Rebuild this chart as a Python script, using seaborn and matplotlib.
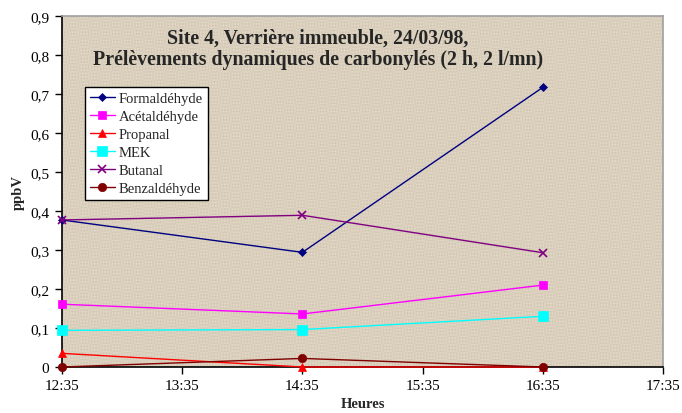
import numpy as np
import pandas as pd
import matplotlib
matplotlib.use("Agg")
import matplotlib.pyplot as plt
import seaborn as sns

# Sampling times (minutes after 12:35) and tick labels
times = [0, 120, 240]
tick_minutes = [0, 60, 120, 180, 240, 300]
tick_labels = ["12:35", "13:35", "14:35", "15:35", "16:35", "17:35"]

formaldehyde = [0.377, 0.294, 0.717]
acetaldehyde = [0.161, 0.136, 0.210]
propanal = [0.035, 0.0, 0.0]
mek = [0.094, 0.096, 0.130]
butanal = [0.377, 0.389, 0.293]
benzaldehyde = [0.0, 0.022, 0.0]

series_names = ["Formaldéhyde", "Acétaldéhyde", "Propanal", "MEK", "Butanal", "Benzaldéhyde"]
series_values = [formaldehyde, acetaldehyde, propanal, mek, butanal, benzaldehyde]
colors = ["#000080", "#ff00ff", "#ff0000", "#00ffff", "#800080", "#800000"]
markers = ["D", "s", "^", "s", "x", "o"]
msizes = [4, 6, 6, 7, 6, 6]

sns.set_theme(style="white")
plt.rcParams["font.family"] = ["Liberation Serif", "DejaVu Serif"]

fig = plt.figure(figsize=(6.82, 4.14), dpi=100)
ax = fig.add_axes([62 / 682, 46 / 414, 601 / 682, 351 / 414])

# Woven-canvas plot area fill
h, w = 351, 601
yy, xx = np.mgrid[0:h, 0:w]
weave = (0.5 * np.sin(xx * 2.1) * np.cos(yy * 0.37) + 0.5 * np.sin(yy * 1.9) * np.cos(xx * 0.29))
base = np.array([0.855, 0.815, 0.74])
tex = base[None, None, :] + 0.045 * weave[..., None]
ax.imshow(np.clip(tex, 0, 1), extent=[0, 300, 0, 0.9], aspect="auto", zorder=0,
          interpolation="nearest")

for name, vals, c, m, ms in zip(series_names, series_values, colors, markers, msizes):
    df = pd.DataFrame({"t": times, "v": vals})
    sns.lineplot(data=df, x="t", y="v", ax=ax, color=c, marker=m, markersize=ms,
                 markeredgecolor=c, markeredgewidth=1.2 if m == "x" else 0.5,
                 linewidth=1.0, label=name, zorder=3, clip_on=False)

ax.set_xlim(0, 300)
ax.set_ylim(0, 0.9)
ax.set_xticks(tick_minutes)
ax.set_xticklabels(tick_labels)
yt = np.round(np.arange(0, 0.91, 0.1), 1)
ax.set_yticks(yt)
ax.set_yticklabels(["0" if v == 0 else f"{v:.1f}".replace(".", ",") for v in yt])
ax.tick_params(axis="both", direction="out", length=5, width=1, colors="black",
               labelsize=11, left=True, bottom=True)
ax.tick_params(axis="x", pad=4)
ax.tick_params(axis="y", pad=4)

for side in ["left", "bottom"]:
    ax.spines[side].set_color("black")
    ax.spines[side].set_linewidth(1.2)
for side in ["top", "right"]:
    ax.spines[side].set_color("#a0a0a0")
    ax.spines[side].set_linewidth(1.2)

ax.set_xlabel("Heures", fontsize=10.5, fontweight="bold", labelpad=3)
ax.set_ylabel("ppbV", fontsize=10.5, fontweight="bold", labelpad=4)

ax.text(0.426, 0.968, "Site 4, Verrière immeuble, 24/03/98,\nPrélèvements dynamiques de carbonylés (2 h, 2 l/mn)",
        transform=ax.transAxes, ha="center", va="top", fontsize=14.3, fontweight="bold",
        linespacing=1.1, zorder=5)

leg = ax.legend(loc="upper left", bbox_to_anchor=(0.038, 0.798), fontsize=10.5,
                frameon=True, fancybox=False, framealpha=1, edgecolor="black",
                handlelength=1.7, borderpad=0.35, labelspacing=0.33, handletextpad=0.3,
                borderaxespad=0)
leg.get_frame().set_linewidth(1.0)
leg.set_zorder(6)

fig.savefig("out.png", dpi=100)
